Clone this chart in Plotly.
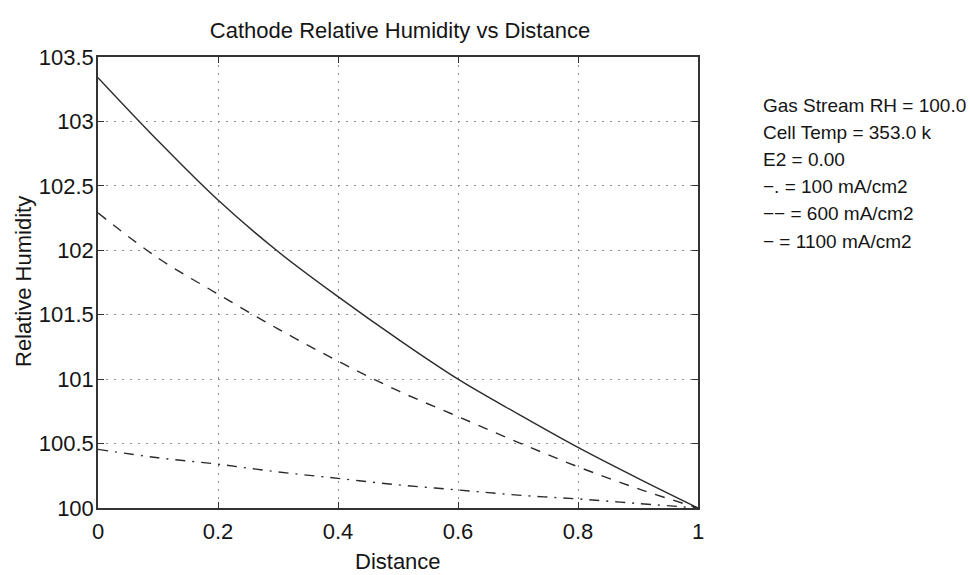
import plotly.graph_objects as go

# Distance along the channel (normalised)
distance = [0.0, 0.1, 0.2, 0.3, 0.4, 0.5, 0.6, 0.7, 0.8, 0.9, 1.0]

# Cathode relative humidity for three current densities
rh_100 = [100.455, 100.39, 100.34, 100.28, 100.23, 100.18, 100.14, 100.10, 100.07, 100.035, 100.00]
rh_600 = [102.29, 101.94, 101.66, 101.39, 101.14, 100.91, 100.71, 100.51, 100.32, 100.15, 100.00]
rh_1100 = [103.34, 102.85, 102.39, 101.99, 101.64, 101.31, 101.00, 100.73, 100.47, 100.23, 100.00]

x_ticks = [0, 0.2, 0.4, 0.6, 0.8, 1.0]
x_tick_labels = ["0", "0.2", "0.4", "0.6", "0.8", "1"]
y_ticks = [100, 100.5, 101, 101.5, 102, 102.5, 103, 103.5]
y_tick_labels = ["100", "100.5", "101", "101.5", "102", "102.5", "103", "103.5"]

info_lines = [
    "Gas Stream RH = 100.0",
    "Cell Temp = 353.0 k",
    "E2 = 0.00",
    "\u2212. = 100 mA/cm2",
    "\u2212\u2212 = 600 mA/cm2",
    "\u2212 = 1100 mA/cm2",
]

FONT = "Liberation Sans, Arial, Helvetica, sans-serif"
INK = "#2b2b2b"
TEXT = "#151515"

# plot-area geometry in pixels
L, R, T, B = 98, 272, 57, 67
W, H = 970, 575
PW, PH = W - L - R, H - T - B

fig = go.Figure()
fig.add_trace(go.Scatter(x=distance, y=rh_100, mode="lines", line_shape="spline",
                         line=dict(color=INK, width=1.4, dash="10px,7px,2px,7px")))
fig.add_trace(go.Scatter(x=distance, y=rh_600, mode="lines", line_shape="spline",
                         line=dict(color=INK, width=1.4, dash="10px,9px")))
fig.add_trace(go.Scatter(x=distance, y=rh_1100, mode="lines", line_shape="spline",
                         line=dict(color=INK, width=1.4)))

axis_common = dict(
    showline=True, linecolor="#333", linewidth=1.5, mirror="allticks",
    ticks="inside", ticklen=6, tickcolor="#333", tickwidth=1.2,
    showgrid=True, gridcolor="#8c8c8c", griddash="1.5px,6.5px", gridwidth=1,
    zeroline=False, tickfont=dict(family=FONT, size=22, color=TEXT),
)

fig.update_xaxes(range=[0, 1], tickvals=x_ticks, ticktext=x_tick_labels,
                 ticklabelstandoff=3, **axis_common)
fig.update_yaxes(range=[100, 103.5], tickvals=y_ticks, ticktext=y_tick_labels,
                 ticklabelstandoff=-2, **axis_common)

# axis titles
fig.add_annotation(text="Distance", xref="paper", yref="paper",
                   x=(398 - L) / PW, y=-(561 - (H - B)) / PH,
                   xanchor="center", yanchor="middle", showarrow=False,
                   font=dict(family=FONT, size=22, color=TEXT))
fig.add_annotation(text="Relative Humidity", xref="paper", yref="paper",
                   x=(23 - L) / PW, y=((H - B) - 282) / PH, textangle=-90,
                   xanchor="center", yanchor="middle", showarrow=False,
                   font=dict(family=FONT, size=22, color=TEXT))

# operating-condition notes beside the plot
for i, line in enumerate(info_lines):
    y_px = 105 + 27.2 * i
    fig.add_annotation(text=line, xref="paper", yref="paper",
                       x=(761 - L) / PW, y=((H - B) - y_px) / PH,
                       xanchor="left", yanchor="middle", showarrow=False,
                       font=dict(family=FONT, size=19, color=TEXT))

fig.update_layout(
    width=W, height=H,
    margin=dict(l=L, r=R, t=T, b=B),
    paper_bgcolor="white", plot_bgcolor="white",
    showlegend=False,
    title=dict(text="Cathode Relative Humidity vs Distance",
               font=dict(family=FONT, size=22, color=TEXT),
               x=(400 - L) / PW, xref="paper", y=1 - 30 / H, yref="container",
               xanchor="center", yanchor="middle"),
)

fig.write_html("out.html")
